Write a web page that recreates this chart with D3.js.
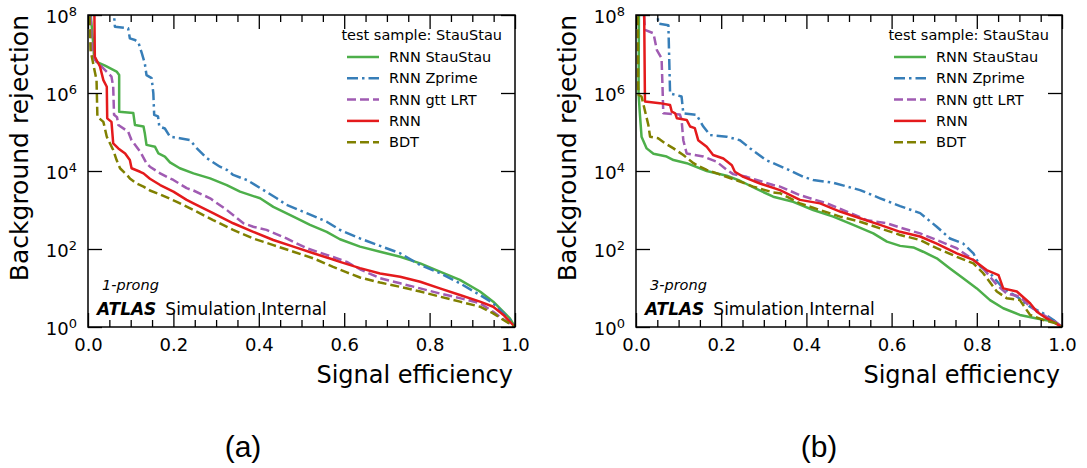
<!DOCTYPE html>
<html>
<head>
<meta charset="utf-8">
<script src="https://cdn.jsdelivr.net/npm/d3@7"></script>
<style>
  html, body { margin: 0; padding: 0; background: #fff; }
  svg { display: block; }
  text { font-family: "DejaVu Sans", sans-serif; fill: #000; }
</style>
</head>
<body>
<svg id="chart" width="1087" height="468"></svg>
<script>
// ROC curves: [signal efficiency, log10(background rejection)]

// 1-prong taus
const oneProngStauStau = [[0.004,8.3],[0.012,7.3],[0.014,6.97],[0.020,6.80],[0.040,6.70],[0.067,6.55],[0.073,6.46],[0.073,5.52],[0.106,5.49],[0.110,5.18],[0.130,5.14],[0.133,4.97],[0.137,4.67],[0.157,4.62],[0.165,4.45],[0.180,4.37],[0.192,4.22],[0.215,4.07],[0.247,3.94],[0.286,3.81],[0.325,3.64],[0.356,3.47],[0.403,3.30],[0.434,3.08],[0.481,2.83],[0.520,2.62],[0.559,2.44],[0.590,2.25],[0.637,2.06],[0.684,1.93],[0.731,1.80],[0.778,1.63],[0.824,1.42],[0.871,1.21],[0.918,0.91],[0.949,0.65],[0.973,0.39],[0.988,0.22],[1.0,0]];
const oneProngZprime = [[0.059,8.3],[0.063,7.70],[0.094,7.66],[0.098,7.40],[0.110,7.36],[0.118,7.30],[0.126,7.02],[0.133,6.76],[0.137,6.46],[0.149,6.38],[0.153,5.99],[0.155,5.44],[0.164,5.40],[0.167,5.14],[0.180,5.09],[0.192,4.88],[0.215,4.84],[0.239,4.79],[0.255,4.58],[0.278,4.33],[0.309,4.11],[0.325,4.03],[0.340,3.90],[0.372,3.77],[0.411,3.51],[0.442,3.30],[0.465,3.13],[0.512,2.92],[0.559,2.70],[0.590,2.49],[0.637,2.27],[0.684,2.08],[0.731,1.89],[0.778,1.59],[0.824,1.38],[0.871,1.12],[0.918,0.82],[0.949,0.61],[0.973,0.35],[0.992,0.14],[1.0,0]];
const oneProngGttLRT = [[0.005,8.3],[0.009,7.10],[0.016,6.85],[0.036,6.63],[0.055,6.42],[0.059,6.16],[0.061,5.44],[0.068,5.38],[0.071,5.18],[0.094,5.01],[0.102,4.79],[0.122,4.50],[0.137,4.20],[0.145,4.11],[0.169,3.94],[0.192,3.81],[0.200,3.77],[0.231,3.56],[0.247,3.50],[0.286,3.30],[0.325,3.00],[0.364,2.66],[0.387,2.57],[0.418,2.49],[0.465,2.27],[0.512,2.02],[0.559,1.85],[0.606,1.67],[0.637,1.48],[0.684,1.25],[0.731,1.12],[0.778,0.99],[0.824,0.86],[0.871,0.74],[0.918,0.61],[0.949,0.39],[0.973,0.20],[1.0,0]];
const oneProngRNN = [[0.014,8.3],[0.015,8.0],[0.016,6.93],[0.028,6.68],[0.036,6.33],[0.044,6.16],[0.045,5.35],[0.055,5.26],[0.059,4.71],[0.071,4.58],[0.087,4.45],[0.098,4.28],[0.102,4.07],[0.122,3.98],[0.130,3.94],[0.145,3.80],[0.169,3.64],[0.200,3.47],[0.231,3.26],[0.247,3.17],[0.293,2.92],[0.340,2.66],[0.387,2.44],[0.434,2.23],[0.481,2.06],[0.528,1.89],[0.574,1.73],[0.590,1.67],[0.637,1.51],[0.684,1.37],[0.731,1.29],[0.778,1.16],[0.824,0.99],[0.871,0.82],[0.918,0.65],[0.949,0.52],[0.973,0.31],[0.992,0.09],[1.0,0]];
const oneProngBDT = [[0.003,8.3],[0.006,7.10],[0.012,6.76],[0.020,6.33],[0.022,5.39],[0.036,5.26],[0.044,4.88],[0.059,4.54],[0.067,4.28],[0.075,4.07],[0.091,3.90],[0.098,3.81],[0.114,3.68],[0.130,3.60],[0.145,3.50],[0.169,3.40],[0.208,3.21],[0.247,3.00],[0.293,2.74],[0.340,2.49],[0.387,2.27],[0.434,2.10],[0.481,1.93],[0.528,1.76],[0.574,1.54],[0.606,1.40],[0.637,1.27],[0.684,1.14],[0.731,1.03],[0.778,0.91],[0.824,0.78],[0.871,0.65],[0.918,0.52],[0.949,0.35],[0.973,0.18],[1.0,0]];

// 3-prong taus
const threeProngStauStau = [[0.007,8.3],[0.006,5.99],[0.009,5.48],[0.013,4.88],[0.025,4.58],[0.041,4.44],[0.072,4.37],[0.088,4.28],[0.119,4.20],[0.166,4.00],[0.213,3.88],[0.244,3.75],[0.283,3.54],[0.322,3.34],[0.369,3.21],[0.416,3.00],[0.463,2.83],[0.510,2.62],[0.557,2.40],[0.589,2.19],[0.620,2.08],[0.651,2.04],[0.674,1.93],[0.706,1.76],[0.737,1.50],[0.768,1.25],[0.800,0.99],[0.831,0.69],[0.862,0.48],[0.901,0.31],[0.941,0.22],[0.980,0.14],[1.0,0]];
const threeProngZprime = [[0.050,8.3],[0.052,7.78],[0.076,7.74],[0.080,5.99],[0.107,5.91],[0.111,5.48],[0.142,5.44],[0.158,5.14],[0.174,4.92],[0.213,4.88],[0.244,4.79],[0.268,4.58],[0.305,4.28],[0.354,4.05],[0.393,3.85],[0.416,3.77],[0.463,3.70],[0.526,3.51],[0.573,3.30],[0.620,3.10],[0.667,2.92],[0.706,2.57],[0.737,2.27],[0.768,2.14],[0.792,1.89],[0.808,1.55],[0.831,1.38],[0.862,0.99],[0.894,0.78],[0.925,0.52],[0.956,0.35],[0.980,0.18],[1.0,0]];
const threeProngGttLRT = [[0.017,8.3],[0.021,7.62],[0.041,7.53],[0.049,7.10],[0.060,6.89],[0.062,6.25],[0.064,5.48],[0.103,5.45],[0.107,5.31],[0.111,4.79],[0.119,4.45],[0.158,4.37],[0.189,4.24],[0.213,4.03],[0.228,3.92],[0.260,3.85],[0.283,3.77],[0.322,3.64],[0.338,3.60],[0.385,3.38],[0.448,3.17],[0.495,2.96],[0.542,2.74],[0.589,2.66],[0.620,2.55],[0.667,2.40],[0.706,2.23],[0.753,2.02],[0.792,1.72],[0.815,1.50],[0.847,1.08],[0.870,0.86],[0.901,0.78],[0.925,0.52],[0.956,0.31],[0.988,0.11],[1.0,0]];
const threeProngRNN = [[0.019,8.3],[0.021,5.78],[0.056,5.74],[0.080,5.69],[0.084,5.52],[0.092,5.48],[0.096,5.35],[0.119,5.31],[0.127,5.14],[0.138,5.10],[0.146,4.79],[0.166,4.62],[0.181,4.41],[0.205,4.32],[0.225,4.15],[0.232,3.98],[0.252,3.85],[0.291,3.68],[0.338,3.51],[0.385,3.26],[0.432,3.17],[0.479,2.96],[0.526,2.79],[0.573,2.62],[0.620,2.44],[0.667,2.32],[0.706,2.14],[0.753,1.89],[0.792,1.72],[0.823,1.46],[0.851,1.33],[0.862,0.99],[0.894,0.91],[0.925,0.61],[0.941,0.39],[0.964,0.22],[1.0,0]];
const threeProngBDT = [[0.004,8.3],[0.005,6.2],[0.006,5.95],[0.013,5.91],[0.029,5.18],[0.033,4.88],[0.052,4.84],[0.068,4.71],[0.088,4.58],[0.111,4.41],[0.135,4.20],[0.150,4.11],[0.166,4.03],[0.205,3.88],[0.244,3.73],[0.275,3.60],[0.322,3.45],[0.338,3.43],[0.385,3.17],[0.432,3.00],[0.479,2.83],[0.526,2.70],[0.573,2.53],[0.620,2.36],[0.667,2.23],[0.706,2.02],[0.753,1.80],[0.792,1.63],[0.815,1.38],[0.847,0.91],[0.870,0.74],[0.901,0.69],[0.925,0.31],[0.956,0.18],[0.988,0.09],[1.0,0]];

const seriesNames = ["RNN StauStau", "RNN Zprime", "RNN gtt LRT", "RNN", "BDT"];
const xTicks = [0, 0.2, 0.4, 0.6, 0.8, 1.0];
const xMinorTicks = [0.05,0.1,0.15,0.25,0.3,0.35,0.45,0.5,0.55,0.65,0.7,0.75,0.85,0.9,0.95];
const yTickExponents = [0, 2, 4, 6, 8];

const styles = [
  { color: "#4daf4a", dash: null },
  { color: "#377eb8", dash: "11,4,2.5,4" },
  { color: "#a05bb2", dash: "9,4" },
  { color: "#e41a1c", dash: null },
  { color: "#808000", dash: "9,4" }
];

const panels = [
  { id: "p1", x0: 88, x1: 515, prong: "1-prong", tag: "(a)", tagX: 243,
    curves: [oneProngStauStau, oneProngZprime, oneProngGttLRT, oneProngRNN, oneProngBDT] },
  { id: "p2", x0: 636, x1: 1062, prong: "3-prong", tag: "(b)", tagX: 819,
    curves: [threeProngStauStau, threeProngZprime, threeProngGttLRT, threeProngRNN, threeProngBDT] }
];

const plotTop = 15, plotBottom = 327;
const svg = d3.select("#chart");
const defs = svg.append("defs");

panels.forEach(p => {
  const x = d3.scaleLinear().domain([0, 1]).range([p.x0, p.x1]);
  const y = d3.scaleLog().domain([1, 1e8]).range([plotBottom, plotTop]);

  defs.append("clipPath").attr("id", "clip-" + p.id)
    .append("rect").attr("x", p.x0).attr("y", plotTop)
    .attr("width", p.x1 - p.x0).attr("height", plotBottom - plotTop);

  const line = d3.line()
    .x(d => x(d[0]))
    .y(d => y(Math.pow(10, d[1])));

  // curves (drawn in legend order, so the BDT sits on top)
  const cg = svg.append("g").attr("clip-path", `url(#clip-${p.id})`);
  p.curves.forEach((c, i) => {
    cg.append("path").datum(c)
      .attr("d", line)
      .attr("fill", "none")
      .attr("stroke", styles[i].color)
      .attr("stroke-width", 2.5)
      .attr("stroke-linejoin", "round")
      .attr("stroke-dasharray", styles[i].dash);
  });

  // axes with inward ticks on all four sides
  const axisStyle = g => {
    g.select(".domain").remove();
    g.selectAll(".tick line").attr("stroke", "#000").attr("stroke-width", 1.3);
  };

  svg.append("g").attr("transform", `translate(0,${plotBottom})`)
    .call(d3.axisBottom(x).tickValues(xTicks).tickSize(-14).tickPadding(11).tickFormat(d3.format(".1f")))
    .call(axisStyle)
    .call(g => g.selectAll(".tick text").attr("font-size", 18).attr("font-family", "DejaVu Sans"));
  svg.append("g").attr("transform", `translate(0,${plotBottom})`)
    .call(d3.axisBottom(x).tickValues(xMinorTicks).tickSize(-7).tickFormat(""))
    .call(axisStyle);
  svg.append("g").attr("transform", `translate(0,${plotTop})`)
    .call(d3.axisTop(x).tickValues(xTicks).tickSize(-14).tickFormat(""))
    .call(axisStyle);
  svg.append("g").attr("transform", `translate(0,${plotTop})`)
    .call(d3.axisTop(x).tickValues(xMinorTicks).tickSize(-7).tickFormat(""))
    .call(axisStyle);

  const yVals = yTickExponents.map(e => Math.pow(10, e));
  svg.append("g").attr("transform", `translate(${p.x0},0)`)
    .call(d3.axisLeft(y).tickValues(yVals).tickSize(-14).tickPadding(11).tickFormat(""))
    .call(axisStyle)
    .call(g => g.selectAll(".tick text").each(function(d) {
      const t = d3.select(this)
        .attr("font-family", "DejaVu Sans").attr("font-size", 18).attr("dy", "0.43em");
      t.append("tspan").text("10");
      t.append("tspan").attr("font-size", 13).attr("dy", -7).text(Math.round(Math.log10(d)));
    }));
  svg.append("g").attr("transform", `translate(${p.x1},0)`)
    .call(d3.axisRight(y).tickValues(yVals).tickSize(-14).tickFormat(""))
    .call(axisStyle);

  // frame
  svg.append("rect").attr("x", p.x0).attr("y", plotTop)
    .attr("width", p.x1 - p.x0).attr("height", plotBottom - plotTop)
    .attr("fill", "none").attr("stroke", "#000").attr("stroke-width", 1.5);

  // axis titles
  svg.append("text").attr("x", p.x1 - 2).attr("y", 383)
    .attr("text-anchor", "end").attr("font-size", 24).text("Signal efficiency");
  svg.append("text").attr("transform", `translate(${p.x0 - 60},${plotTop}) rotate(-90)`)
    .attr("text-anchor", "end").attr("font-size", 25).text("Background rejection");

  // legend
  const lg = svg.append("g");
  lg.append("text").attr("x", p.x1 - 13).attr("y", 40)
    .attr("text-anchor", "end").attr("font-size", 14.5).text("test sample: StauStau");
  seriesNames.forEach((name, i) => {
    const by = 62 + i * 21.3;
    lg.append("line")
      .attr("x1", p.x1 - 168).attr("x2", p.x1 - 136)
      .attr("y1", by - 5).attr("y2", by - 5)
      .attr("stroke", styles[i].color).attr("stroke-width", 2.5)
      .attr("stroke-dasharray", styles[i].dash);
    lg.append("text").attr("x", p.x1 - 126).attr("y", by)
      .attr("font-size", 14.5).text(name);
  });

  // labels inside the frame
  svg.append("text").attr("x", p.x0 + 14).attr("y", 290)
    .attr("font-size", 14.5).attr("font-style", "italic").text(p.prong);
  const atl = svg.append("text").attr("x", p.x0 + 9).attr("y", 315).attr("font-size", 17);
  atl.append("tspan").attr("font-weight", "bold").attr("font-style", "italic").text("ATLAS");
  atl.append("tspan").attr("dx", 9).text("Simulation Internal");

  // sub-figure tag
  svg.append("text").attr("x", p.tagX).attr("y", 457)
    .attr("text-anchor", "middle").attr("font-size", 30)
    .style("font-family", "'Liberation Sans', Arial, sans-serif")
    .text(p.tag);
});
</script>
</body>
</html>
